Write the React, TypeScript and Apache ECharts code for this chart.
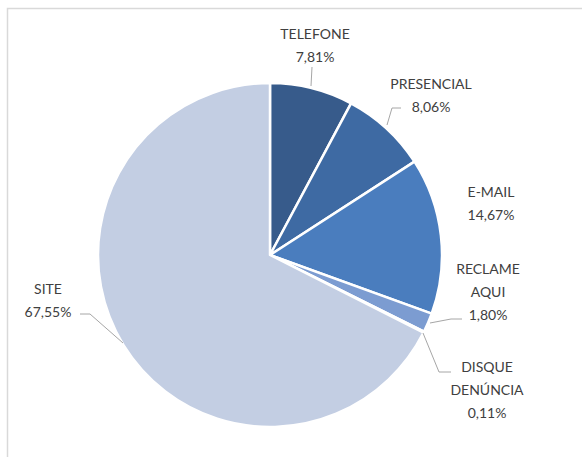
import React, { useEffect, useRef } from "react";
import * as echarts from "echarts";

const categories = ["TELEFONE", "PRESENCIAL", "E-MAIL", "RECLAME\nAQUI", "DISQUE\nDENÚNCIA", "SITE"];
const values = [7.81, 8.06, 14.67, 1.8, 0.11, 67.55];
const colors = ["#375b8b", "#3e6aa3", "#4a7dbe", "#7c9cd1", "#a9bde0", "#c3cee3"];

// label block centres (layout only)
const labelPos: [number, number][] = [
  [315, 45],
  [431, 95],
  [491, 203],
  [488, 291],
  [487, 389],
  [48, 300],
];

const leaderLines: [number, number][][] = [
  [[312, 67], [311, 86]],
  [[401, 108], [392, 108], [387, 125]],
  [],
  [[462, 319], [451, 319], [430, 323]],
  [[423, 333], [439, 372], [451, 372]],
  [[80, 314], [90, 314], [123, 343]],
];

export default function App() {
  const ref = useRef<HTMLDivElement>(null);
  useEffect(() => {
    if (!ref.current) return;
    const chart = echarts.init(ref.current, undefined, { renderer: "svg" });
    const graphics: any[] = [
      {
        type: "rect",
        shape: { x: 7.5, y: 8.5, width: 700, height: 600 },
        style: { fill: "none", stroke: "#d9d9d9", lineWidth: 1.5 },
        silent: true,
      },
    ];
    leaderLines.forEach((pts) => {
      if (pts.length) {
        graphics.push({
          type: "polyline",
          shape: { points: pts },
          style: { stroke: "#a6a6a6", lineWidth: 1, fill: "none" },
          z: 10,
          silent: true,
        });
      }
    });
    chart.setOption({
      animation: false,
      backgroundColor: "#ffffff",
      graphic: graphics,
      series: [
        {
          type: "pie",
          center: [270, 255],
          radius: 172,
          startAngle: 90,
          clockwise: true,
          avoidLabelOverlap: false,
          itemStyle: { borderColor: "#ffffff", borderWidth: 2.5 },
          label: {
            show: true,
            position: "outside",
            fontFamily: "Lato",
            fontSize: 14,
            lineHeight: 23,
            color: "#404040",
            align: "center",
            formatter: (p: any) => `${p.name}\n${p.value.toFixed(2).replace(".", ",")}%`,
          },
          labelLine: { show: false },
          labelLayout: (p: any) => {
            const pos = labelPos[p.dataIndex];
            return { x: pos[0], y: pos[1], align: "center", verticalAlign: "middle" };
          },
          data: categories.map((c, i) => ({
            name: c,
            value: values[i],
            itemStyle: { color: colors[i] },
          })),
        },
      ],
    });
    return () => chart.dispose();
  }, []);
  return (
    <div
      ref={ref}
      style={{ position: "absolute", left: 0, top: 0, width: 582, height: 457 }}
    />
  );
}
